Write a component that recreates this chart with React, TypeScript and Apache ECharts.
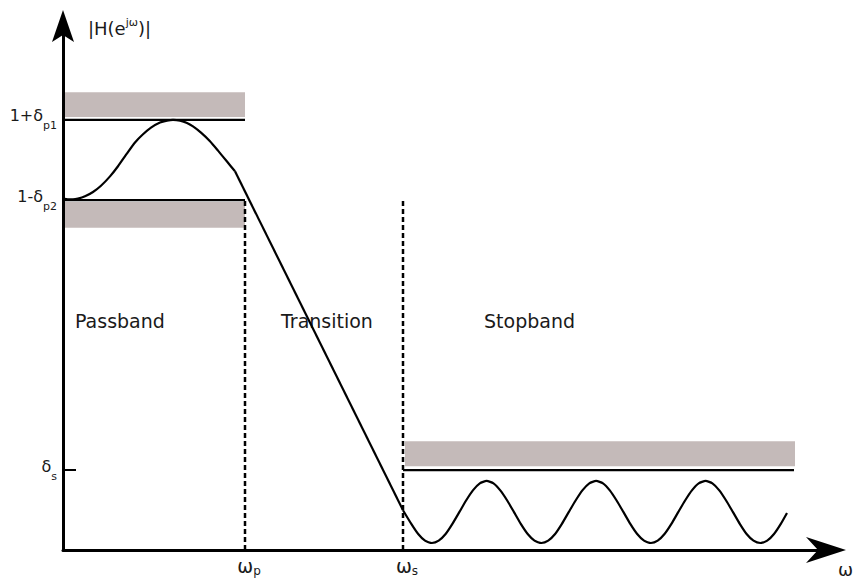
import React, { useEffect, useRef } from 'react';
import * as echarts from 'echarts';

// Scales: frequency axis 1 unit = 100 px, magnitude 1 unit = 390 px
const FONT = 'DejaVu Sans';
const xMax = 7.63;
const yMax = 1.3436;

const omegaP = 1.82;
const omegaS = 3.4;
const levelPassUpper = 1.103; // 1+δp1
const levelPassLower = 0.897; // 1-δp2
const levelStop = 0.205; // δs

// tolerance bands [x0, x1, y0, y1]
const bandPassUpper = [0.02, 1.82, 1.11, 1.174];
const bandPassLower = [0.02, 1.82, 0.826, 0.892];
const bandStop = [3.42, 7.32, 0.215, 0.279];

// frequency response: passband ripple
const passbandX = [0, 0.05, 0.1, 0.15, 0.22, 0.3, 0.38, 0.47, 0.55, 0.64, 0.72, 0.8, 0.88, 0.97, 1.04, 1.1, 1.17, 1.24, 1.3, 1.38, 1.47, 1.55, 1.64, 1.72];
const passbandY = [0.901, 0.899, 0.899, 0.901, 0.907, 0.918, 0.934, 0.958, 0.984, 1.017, 1.045, 1.066, 1.083, 1.096, 1.101, 1.103, 1.101, 1.095, 1.086, 1.07, 1.048, 1.024, 0.996, 0.971];
// transition
const transitionX = [1.72, 3.4];
const transitionY = [0.971, 0.102];
// stopband ripple
const stopbandX = [
  3.4, 3.483, 3.552, 3.62, 3.689, 3.757, 3.826, 3.894, 3.963, 4.031, 4.099, 4.168, 4.236, 4.305, 4.373, 4.442,
  4.51, 4.578, 4.647, 4.715, 4.784, 4.852, 4.921, 4.989, 5.057, 5.126, 5.194, 5.263, 5.331, 5.4, 5.468, 5.536,
  5.605, 5.673, 5.742, 5.81, 5.879, 5.947, 6.015, 6.084, 6.152, 6.221, 6.289, 6.357, 6.426, 6.494, 6.563, 6.631,
  6.7, 6.768, 6.836, 6.905, 6.973, 7.042, 7.11, 7.178, 7.24,
];
const stopbandY = [
  0.102, 0.067, 0.041, 0.024, 0.018, 0.024, 0.041, 0.067, 0.097, 0.127, 0.153, 0.171, 0.177, 0.171, 0.153, 0.127,
  0.097, 0.067, 0.041, 0.024, 0.018, 0.024, 0.041, 0.067, 0.097, 0.127, 0.153, 0.171, 0.177, 0.171, 0.153, 0.127,
  0.097, 0.067, 0.041, 0.024, 0.018, 0.024, 0.041, 0.067, 0.097, 0.127, 0.153, 0.171, 0.177, 0.171, 0.153, 0.127,
  0.097, 0.067, 0.041, 0.024, 0.018, 0.024, 0.041, 0.067, 0.095,
];

// reference lines
const limitUpperX = [0, omegaP];
const limitStopX = [omegaS, 7.31];

// tick labels
const yTickValues = [levelStop, levelPassLower, levelPassUpper];
const yTickMain = ['δ', '1-δ', '1+δ'];
const yTickSub = ['s', 'p2', 'p1'];
const xTickValues = [omegaP, omegaS];
const xTickMain = ['ω', 'ω'];
const xTickSub = ['p', 's'];

const regionNames = ['Passband', 'Transition', 'Stopband'];

const pair = (xs: number[], ys: number[]) => xs.map((x, i) => [x, ys[i]]);
const nearest = (vals: number[], v: number) => {
  let best = 0;
  vals.forEach((t, i) => {
    if (Math.abs(t - v) < Math.abs(vals[best] - v)) best = i;
  });
  return best;
};
const band = (b: number[]) => [{ coord: [b[0], b[2]] }, { coord: [b[1], b[3]] }];

export default function App() {
  const ref = useRef<HTMLDivElement>(null);
  useEffect(() => {
    const chart = echarts.init(ref.current!, null, { renderer: 'svg' });
    const black = '#000000';
    const gray = '#c4bab9';
    const ink = '#1a1a1a';
    const lineSeries = (name: string, data: number[][], opts: any = {}) => ({
      type: 'line',
      name,
      data,
      symbol: 'none',
      silent: true,
      lineStyle: { color: black, width: 2.2, ...(opts.lineStyle || {}) },
      smooth: opts.smooth || false,
      z: 3,
    });
    const regionText = (i: number, x: number) => ({
      type: 'text',
      x,
      y: 321,
      style: { text: regionNames[i], fontFamily: FONT, fontSize: 19, fill: ink, verticalAlign: 'middle' },
    });
    chart.setOption({
      animation: false,
      backgroundColor: '#ffffff',
      grid: { left: 63, right: 29, top: 26, bottom: 31, outerBoundsMode: 'none', containLabel: false },
      xAxis: {
        type: 'value',
        min: 0,
        max: xMax,
        splitLine: { show: false },
        axisTick: { show: false },
        axisLine: {
          show: true,
          symbol: ['none', 'path://M0,0 L13,40 L0,28 L-13,40 Z'],
          symbolSize: [26, 40],
          lineStyle: { color: black, width: 3 },
        },
        axisLabel: {
          show: true,
          customValues: xTickValues,
          margin: 5,
          padding: [0, 0, 0, 8],
          formatter: (v: number) => {
            const i = nearest(xTickValues, v);
            return `{m|${xTickMain[i]}}{s|${xTickSub[i]}}`;
          },
          rich: {
            m: { fontFamily: FONT, fontSize: 19, color: ink },
            s: { fontFamily: FONT, fontSize: 12, color: ink, padding: [10, 0, 0, 0] },
          },
        },
      },
      yAxis: {
        type: 'value',
        min: 0,
        max: yMax,
        splitLine: { show: false },
        axisLine: {
          show: true,
          symbol: ['none', 'path://M0,0 L11,32 L0,25 L-11,32 Z'],
          symbolSize: [22, 32],
          lineStyle: { color: black, width: 3 },
        },
        axisTick: {
          show: true,
          customValues: [levelStop],
          inside: true,
          length: 13,
          lineStyle: { color: black, width: 2 },
        },
        axisLabel: {
          show: true,
          customValues: yTickValues,
          margin: 6,
          padding: [0, 0, 8, 0],
          formatter: (v: number) => {
            const i = nearest(yTickValues, v);
            return `{m|${yTickMain[i]}}{s|${yTickSub[i]}}`;
          },
          rich: {
            m: { fontFamily: FONT, fontSize: 16, color: ink },
            s: { fontFamily: FONT, fontSize: 11, color: ink, padding: [20, 0, 0, 0] },
          },
        },
      },
      series: [
        {
          type: 'line',
          name: 'bands',
          data: [],
          silent: true,
          z: 1,
          markArea: {
            silent: true,
            itemStyle: { color: gray, opacity: 1 },
            data: [band(bandPassUpper), band(bandPassLower), band(bandStop)],
          },
        },
        lineSeries('1+δp1', pair(limitUpperX, [levelPassUpper, levelPassUpper])),
        lineSeries('1-δp2', pair(limitUpperX, [levelPassLower, levelPassLower])),
        lineSeries('δs', pair(limitStopX, [levelStop, levelStop])),
        lineSeries('ωp', pair([omegaP, omegaP], [0, levelPassLower]), { lineStyle: { type: [5, 3], width: 2.5 } }),
        lineSeries('ωs', pair([omegaS, omegaS], [0, levelPassLower]), { lineStyle: { type: [5, 3], width: 2.5 } }),
        lineSeries('passband', pair(passbandX, passbandY), { smooth: 0.2 }),
        lineSeries('transition', pair(transitionX, transitionY)),
        lineSeries('stopband', pair(stopbandX, stopbandY), { smooth: 0.2 }),
      ],
      graphic: [
        {
          type: 'text',
          x: 88,
          y: 28,
          style: {
            text: '{a||H(e}{b|jω}{a|)|}',
            verticalAlign: 'middle',
            rich: {
              a: { fontFamily: FONT, fontSize: 18, fill: ink },
              b: { fontFamily: FONT, fontSize: 11, fill: ink, padding: [0, 0, 11, 0] },
            },
          },
        },
        {
          type: 'text',
          x: 838,
          y: 569,
          style: { text: 'ω', fontFamily: FONT, fontSize: 18, fill: ink, verticalAlign: 'middle' },
        },
        regionText(0, 75),
        regionText(1, 281),
        regionText(2, 484),
      ],
    });
    return () => chart.dispose();
  }, []);
  return <div ref={ref} style={{ position: 'fixed', left: 0, top: 0, width: 855, height: 581 }} />;
}
